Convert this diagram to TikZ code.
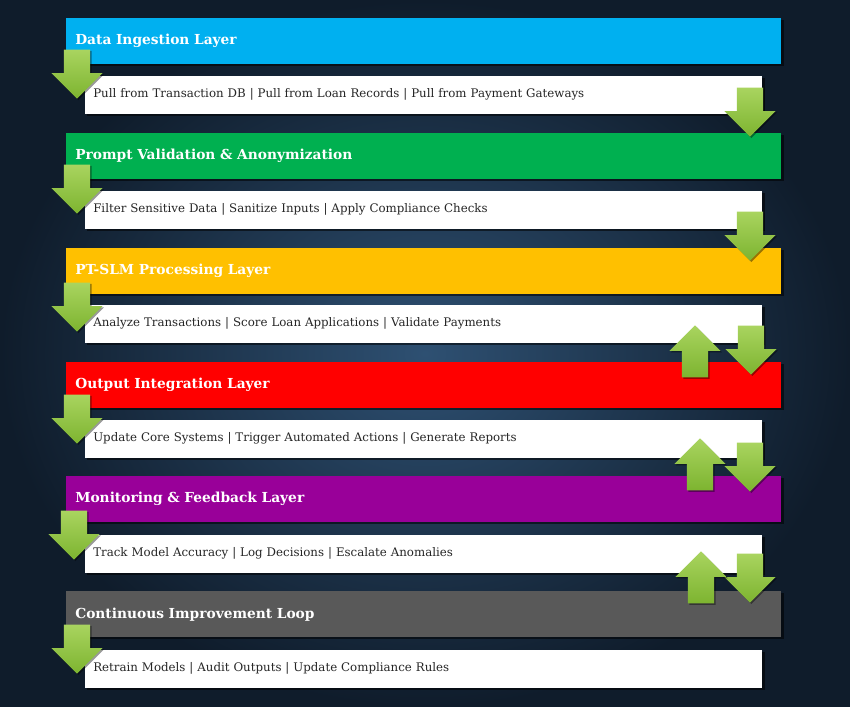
\documentclass[tikz,border=0pt]{standalone}
\usepackage{fontspec}
\setmainfont{DejaVu Serif}
\usepackage{xcolor}
\usetikzlibrary{shapes.arrows, shadows, positioning}

\definecolor{bgdark}{HTML}{0F1C2B}
\definecolor{bglight}{HTML}{2E5072}
\definecolor{layerblue}{HTML}{00B0F0}
\definecolor{layergreen}{HTML}{00B050}
\definecolor{layergold}{HTML}{FFC000}
\definecolor{layerred}{HTML}{FF0000}
\definecolor{layerpurple}{HTML}{990099}
\definecolor{layergray}{HTML}{595959}
\definecolor{arrowtop}{HTML}{A9D45F}
\definecolor{arrowbot}{HTML}{7DB430}

\begin{document}
\begin{tikzpicture}[x=0.025cm, y=-0.025cm, shade/.style={drop shadow={shadow xshift=1.5pt, shadow yshift=-1.5pt, opacity=0.55, fill=black}}]
    % Define styles for layer bars, detail boxes and the green arrows
    \tikzstyle{layer} = [rectangle, anchor=north west, minimum height=1.15cm, text width=17.425cm, inner xsep=0.225cm, inner ysep=0pt, align=left, text=white, font=\bfseries\fontsize{9.8}{11}\selectfont, shade]
    \tikzstyle{detail} = [rectangle, fill=white, minimum height=0.95cm, text width=16.525cm, inner xsep=0.2cm, inner ysep=0pt, align=left, text=black!85, font=\fontsize{8.4}{10}\selectfont, shade]
    \tikzstyle{flow} = [single arrow, anchor=tip, minimum height=1.225cm, minimum width=1.275cm, single arrow head extend=0.31cm, inner sep=0.32cm, top color=arrowtop, bottom color=arrowbot, drop shadow={shadow xshift=1pt, shadow yshift=-1pt, opacity=0.4, fill=black}]
    \tikzstyle{down} = [flow, shape border rotate=270]
    \tikzstyle{up} = [flow, shape border rotate=90, minimum height=1.3cm]

    % Background
    \shade[inner color=bglight, outer color=bgdark] (0,0) rectangle (850,707);

    % Nodes placement
    \node [layer, fill=layerblue] (ingest) at (66,18) {Data Ingestion Layer};
    \node [detail, below right=0.275cm and 0.475cm of ingest.south west] (ingestTxt) {Pull from Transaction DB | Pull from Loan Records | Pull from Payment Gateways};
    \node [layer, fill=layergreen] (prompt) at (66,133) {Prompt Validation \& Anonymization};
    \node [detail, below right=0.275cm and 0.475cm of prompt.south west] (promptTxt) {Filter Sensitive Data | Sanitize Inputs | Apply Compliance Checks};
    \node [layer, fill=layergold] (slm) at (66,248) {PT-SLM Processing Layer};
    \node [detail, below right=0.25cm and 0.475cm of slm.south west] (slmTxt) {Analyze Transactions | Score Loan Applications | Validate Payments};
    \node [layer, fill=layerred] (output) at (66,362) {Output Integration Layer};
    \node [detail, below right=0.275cm and 0.475cm of output.south west] (outputTxt) {Update Core Systems | Trigger Automated Actions | Generate Reports};
    \node [layer, fill=layerpurple] (monitor) at (66,476) {Monitoring \& Feedback Layer};
    \node [detail, below right=0.3cm and 0.475cm of monitor.south west] (monitorTxt) {Track Model Accuracy | Log Decisions | Escalate Anomalies};
    \node [layer, fill=layergray] (improve) at (66,591) {Continuous Improvement Loop};
    \node [detail, below right=0.3cm and 0.475cm of improve.south west] (improveTxt) {Retrain Models | Audit Outputs | Update Compliance Rules};

    % Arrows on the left edge
    \node [down] (inL1) at (77,99) {};
    \node [down] (inL2) at (77,214) {};
    \node [down] (inL3) at (77,332) {};
    \node [down] (inL4) at (77,444) {};
    \node [down] (inL5) at (74,560) {};
    \node [down] (inL6) at (77,674) {};

    % Arrows on the right edge, feedback pairs lower down
    \node [down] (outR1) at (750,137) {};
    \node [down] (outR2) at (750,261) {};
    \node [down] (outR3) at (751,375) {};
    \node [up] (backR3) at (695,325) {};
    \node [down] (outR4) at (750,492) {};
    \node [up] (backR4) at (700,438) {};
    \node [down] (outR5) at (750,603) {};
    \node [up] (backR5) at (701,551) {};
\end{tikzpicture}
\end{document}
